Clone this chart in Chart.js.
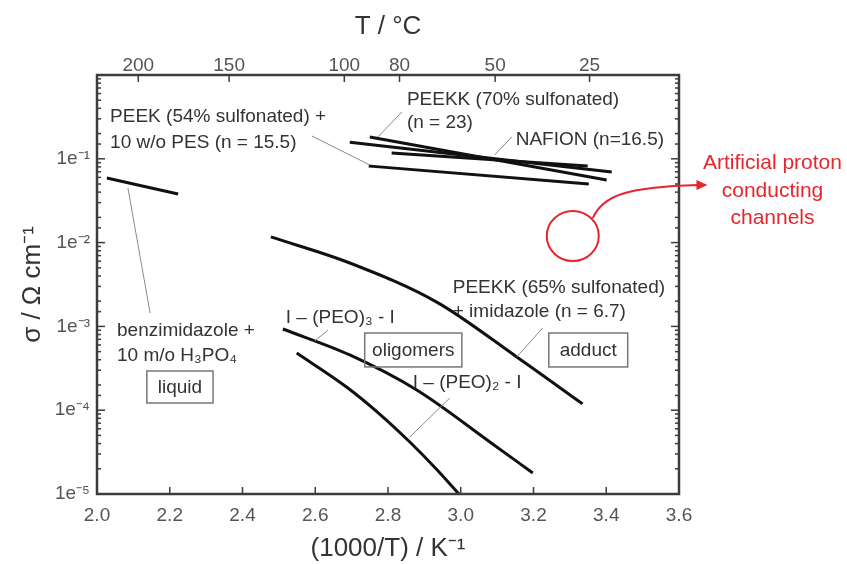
<!DOCTYPE html>
<html>
<head>
<meta charset="utf-8">
<script src="https://cdn.jsdelivr.net/npm/chart.js@4/dist/chart.umd.min.js"></script>
<style>
  html, body { margin: 0; padding: 0; background: #fff; }
</style>
</head>
<body>
<canvas id="chart" width="847" height="564"></canvas>
<script>
// temperatures shown on the top axis (°C)
const tempTicks = [200, 150, 100, 80, 50, 25];

// conductivity curves, x = 1000/T (K^-1), sigma in S/cm
const benzX = [2.027, 2.223];
const benzSigma = [0.059, 0.038];

const peekk65X = [2.478, 2.695, 2.934, 3.154, 3.335];
const peekk65Sigma = [1.17e-2, 5.71e-3, 1.95e-3, 4.32e-4, 1.19e-4];

const peo3X = [2.511, 2.695, 2.879, 3.080, 3.198];
const peo3Sigma = [9.31e-4, 4.56e-4, 1.74e-4, 4.18e-5, 1.78e-5];

const peo2X = [2.549, 2.687, 2.777, 2.860, 2.934, 2.995];
const peo2Sigma = [4.82e-4, 1.88e-4, 9.0e-5, 4.17e-5, 1.96e-5, 1.0e-5];

const peekk70X = [2.750, 3.401];
const peekk70Sigma = [0.182, 0.0558];

const peekOtherX = [2.695, 3.415];
const peekOtherSigma = [0.158, 0.0695];

const nafionX = [2.810, 3.349];
const nafionSigma = [0.117, 0.082];

const peek54X = [2.747, 3.352];
const peek54Sigma = [0.082, 0.050];

const FONT = '"Liberation Sans", Arial, Helvetica, sans-serif';
const RED = '#e5262d';

function toPoints(xs, ys) {
    return xs.map((x, i) => ({ x: x, y: ys[i] }));
}

function curve(xs, ys) {
    return {
        data: toPoints(xs, ys),
        showLine: true,
        borderColor: '#111',
        borderWidth: 3,
        pointRadius: 0,
        cubicInterpolationMode: 'monotone',
        fill: false
    };
}

const SUP = { '-': '\u207B', '0': '\u2070', '1': '\u00B9', '2': '\u00B2', '3': '\u00B3', '4': '\u2074', '5': '\u2075' };

function isDecade(v) {
    const e = Math.log10(v);
    return Math.abs(e - Math.round(e)) < 1e-6;
}

// labels + leader lines, given in data coords (x, log10 sigma)
const notes = [
    { text: 'PEEK (54% sulfonated) +', x: 2.036, lg: -0.501 },
    { text: '10 w/o PES (n = 15.5)', x: 2.036, lg: -0.811 },
    { text: 'PEEKK (70% sulfonated)', x: 2.852, lg: -0.298 },
    { text: '(n = 23)', x: 2.852, lg: -0.573 },
    { text: 'NAFION (n=16.5)', x: 3.151, lg: -0.776 },
    { text: 'benzimidazole +', x: 2.055, lg: -3.055 },
    { text: '10 m/o H\u2083PO\u2084', x: 2.055, lg: -3.353 },
    { text: 'I \u2013 (PEO)\u2083 - I', x: 2.519, lg: -2.900 },
    { text: 'I \u2013 (PEO)\u2082 - I', x: 2.868, lg: -3.675 },
    { text: 'PEEKK (65% sulfonated)', x: 2.978, lg: -2.542 },
    { text: '+ imidazole (n = 6.7)', x: 2.978, lg: -2.828 }
];

const boxes = [
    { text: 'liquid', x0: 2.137, x1: 2.319, lg0: -3.532, lg1: -3.914 },
    { text: 'oligomers', x0: 2.736, x1: 3.003, lg0: -3.079, lg1: -3.484 },
    { text: 'adduct', x0: 3.242, x1: 3.459, lg0: -3.079, lg1: -3.484 }
];

const leaders = [
    [2.591, -0.728, 2.750, -1.074],
    [2.838, -0.442, 2.772, -0.740],
    [3.140, -0.740, 3.093, -0.955],
    [2.085, -1.348, 2.146, -2.840],
    [2.635, -3.043, 2.599, -3.174],
    [2.970, -3.854, 2.860, -4.320],
    [3.225, -3.019, 3.154, -3.365]
];

const redLines = ['Artificial proton', 'conducting', 'channels'];

const frameTicks = {
    id: 'frameTicks',
    afterDatasetsDraw(chart) {
        const { ctx, chartArea: a, scales } = chart;
        ctx.save();
        ctx.strokeStyle = '#3c3c3c';
        ctx.lineWidth = 1.5;
        const seg = (x0, y0, x1, y1) => {
            ctx.beginPath(); ctx.moveTo(x0, y0); ctx.lineTo(x1, y1); ctx.stroke();
        };
        scales.y.ticks.forEach(t => {
            const p = scales.y.getPixelForValue(t.value);
            const len = isDecade(t.value) ? 8 : 4;
            seg(a.left, p, a.left + len, p);
            seg(a.right - len, p, a.right, p);
        });
        scales.x.ticks.forEach(t => {
            const p = scales.x.getPixelForValue(t.value);
            seg(p, a.bottom, p, a.bottom - 7);
        });
        scales.x2.ticks.forEach(t => {
            const p = scales.x2.getPixelForValue(t.value);
            seg(p, a.top, p, a.top + 7);
        });
        ctx.lineWidth = 2.5;
        ctx.strokeRect(a.left, a.top, a.right - a.left, a.bottom - a.top);
        ctx.restore();
    }
};

const annotations = {
    id: 'annotations',
    afterDraw(chart) {
        const { ctx, scales } = chart;
        const px = x => scales.x.getPixelForValue(x);
        const py = lg => scales.y.getPixelForValue(Math.pow(10, lg));
        ctx.save();

        // leader lines
        ctx.strokeStyle = '#8a8a8a';
        ctx.lineWidth = 1;
        leaders.forEach(l => {
            ctx.beginPath();
            ctx.moveTo(px(l[0]), py(l[1]));
            ctx.lineTo(px(l[2]), py(l[3]));
            ctx.stroke();
        });

        // labels
        ctx.fillStyle = '#333';
        ctx.font = '19px ' + FONT;
        ctx.textBaseline = 'middle';
        ctx.textAlign = 'left';
        notes.forEach(n => ctx.fillText(n.text, px(n.x), py(n.lg)));

        // boxed labels
        ctx.strokeStyle = '#777';
        ctx.lineWidth = 1.5;
        ctx.textAlign = 'center';
        boxes.forEach(b => {
            const x0 = px(b.x0), x1 = px(b.x1), y0 = py(b.lg0), y1 = py(b.lg1);
            ctx.strokeRect(x0, y0, x1 - x0, y1 - y0);
            ctx.fillText(b.text, (x0 + x1) / 2, (y0 + y1) / 2 + 1);
        });

        // red circle + arrow + text
        ctx.strokeStyle = RED;
        ctx.fillStyle = RED;
        ctx.lineWidth = 2;
        const cx = px(3.308), cy = py(-1.921);
        ctx.beginPath();
        ctx.ellipse(cx, cy, 26, 25, 0, 0, Math.PI * 2);
        ctx.stroke();

        const sx = px(3.363), sy = py(-1.706);
        const ex = px(3.670), ey = py(-1.313);
        ctx.beginPath();
        ctx.moveTo(sx, sy);
        ctx.bezierCurveTo(sx + 10, sy - 22, sx + 32, ey + 2, ex - 6, ey);
        ctx.stroke();
        ctx.beginPath();
        ctx.moveTo(ex + 3, ey);
        ctx.lineTo(ex - 8, ey - 5);
        ctx.lineTo(ex - 8, ey + 5);
        ctx.closePath();
        ctx.fill();

        ctx.font = '21px ' + FONT;
        ctx.textAlign = 'center';
        const tx = px(3.857);
        [-1.050, -1.384, -1.706].forEach((lg, i) => ctx.fillText(redLines[i], tx, py(lg)));

        ctx.restore();
    }
};

new Chart(document.getElementById('chart'), {
    type: 'scatter',
    data: {
        datasets: [
            curve(benzX, benzSigma),
            curve(peekk65X, peekk65Sigma),
            curve(peo3X, peo3Sigma),
            curve(peo2X, peo2Sigma),
            curve(peekk70X, peekk70Sigma),
            curve(peekOtherX, peekOtherSigma),
            curve(nafionX, nafionSigma),
            curve(peek54X, peek54Sigma)
        ]
    },
    options: {
        responsive: false,
        animation: false,
        events: [],
        layout: { padding: { left: 0, right: 168, top: 0, bottom: 0 } },
        plugins: { legend: { display: false }, tooltip: { enabled: false } },
        scales: {
            x: {
                type: 'linear',
                position: 'bottom',
                min: 2.0,
                max: 3.6,
                afterFit: s => { s.height = 70; },
                grid: { display: false, drawTicks: false },
                border: { display: false },
                ticks: {
                    stepSize: 0.2,
                    padding: 10,
                    color: '#555',
                    font: { family: FONT, size: 19 },
                    maxRotation: 0,
                    autoSkip: false,
                    callback: v => v.toFixed(1)
                },
                title: {
                    display: true,
                    text: '(1000/T) / K\u207B\u00B9',
                    color: '#333',
                    font: { family: FONT, size: 26 },
                    padding: { top: 0, bottom: 0 }
                }
            },
            x2: {
                type: 'linear',
                position: 'top',
                min: 2.0,
                max: 3.6,
                afterFit: s => { s.height = 75; },
                afterBuildTicks: s => {
                    s.ticks = tempTicks.map(t => ({ value: 1000 / (t + 273.15) }));
                },
                grid: { display: false, drawTicks: false },
                border: { display: false },
                ticks: {
                    padding: -2,
                    color: '#555',
                    font: { family: FONT, size: 19 },
                    maxRotation: 0,
                    autoSkip: false,
                    callback: v => String(Math.round(1000 / v - 273.15))
                },
                title: {
                    display: true,
                    text: 'T / \u00B0C',
                    color: '#333',
                    font: { family: FONT, size: 26 },
                    padding: { top: 11, bottom: 0 }
                }
            },
            y: {
                type: 'logarithmic',
                position: 'left',
                min: 1e-5,
                max: 1,
                afterFit: s => { s.width = 97; },
                grid: { display: false, drawTicks: false },
                border: { display: false },
                ticks: {
                    padding: 7,
                    color: '#555',
                    font: { family: FONT, size: 19 },
                    autoSkip: false,
                    callback: v => {
                        if (!isDecade(v)) return '';
                        const e = Math.round(Math.log10(v));
                        if (e >= 0) return '';
                        return '1e' + String(e).split('').map(c => SUP[c]).join('');
                    }
                },
                title: {
                    display: true,
                    text: '\u03C3 / \u03A9 cm\u207B\u00B9',
                    color: '#333',
                    font: { family: FONT, size: 26 },
                    padding: { top: 17, bottom: 0 }
                }
            }
        }
    },
    plugins: [frameTicks, annotations]
});
</script>
</body>
</html>
